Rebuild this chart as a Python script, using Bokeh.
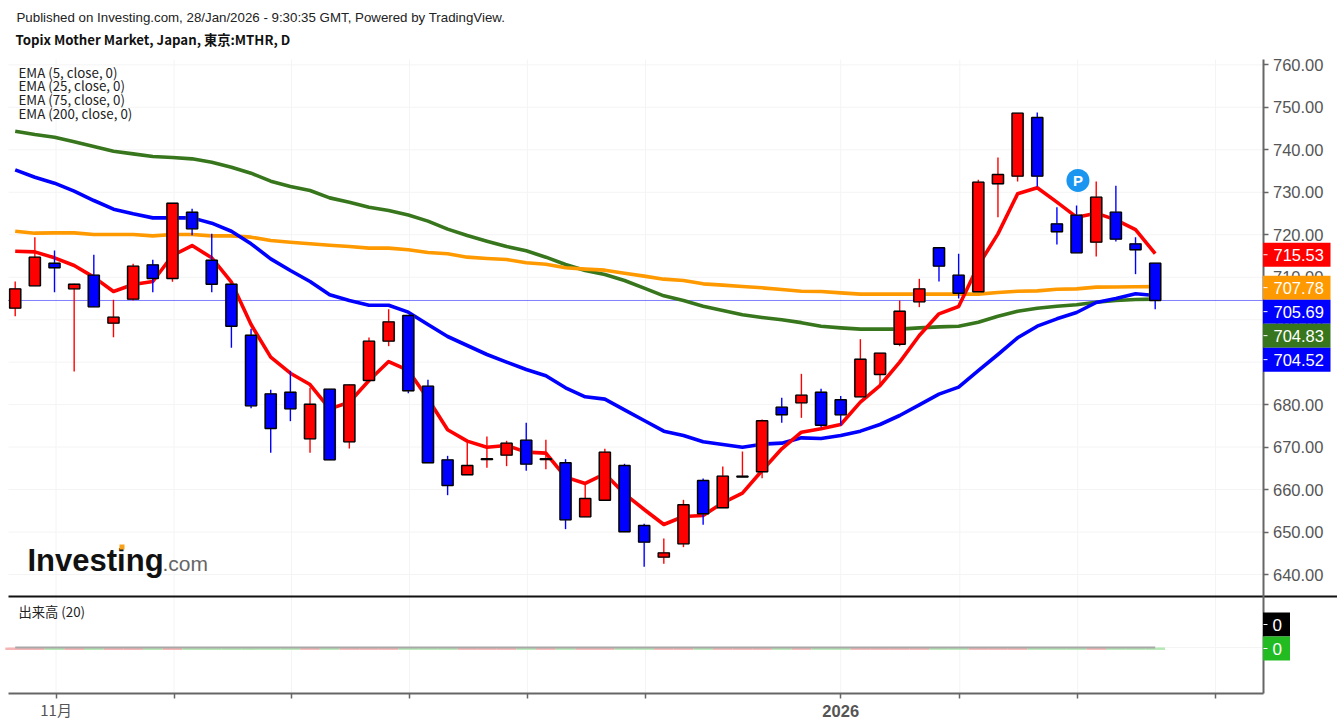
from bokeh.core.properties import value
from bokeh.embed import file_html
from bokeh.resources import INLINE
from bokeh.plotting import figure
from bokeh.models import (Label, BoxAnnotation, FixedTicker, LinearAxis,
                          Range1d, NumeralTickFormatter, ColumnDataSource)

# ---------- data ----------
opens = [702.71,707.97,713.30,707.26,710.48,699.18,704.83,712.91,709.69,725.31,
         714.01,708.36,696.35,682.54,682.93,671.94,683.64,671.23,685.68,694.94,
         700.99,684.35,667.00,663.47,667.04,668.10,671.63,667.04,666.30,653.58,
         657.50,665.67,651.54,644.08,647.22,662.14,655.70,662.96,664.18,679.40,
         680.42,682.93,681.13,681.83,687.09,694.23,704.20,716.92,710.48,706.56,
         731.99,733.79,747.61,722.57,724.61,718.25,725.32,717.86,713.31]
highs = [708.99,719.43,716.29,708.44,715.27,704.67,713.15,714.09,727.43,726.10,
         720.21,708.44,697.84,683.48,687.95,683.95,683.64,684.73,695.80,702.47,
         700.99,685.84,667.94,671.16,672.50,671.48,675.71,671.71,667.16,661.35,
         669.59,666.06,651.93,648.48,657.58,662.61,665.43,668.96,676.50,681.60,
         687.25,683.72,682.01,695.41,692.12,704.52,709.62,716.92,715.50,732.93,
         738.19,748.63,748.78,726.49,726.89,732.54,731.52,719.43,713.31]
lows = [700.82,707.97,706.48,687.80,703.02,695.88,704.51,706.48,708.91,719.90,
        706.48,693.37,679.16,668.64,676.10,668.64,667.00,669.66,685.68,693.76,
        682.70,666.30,658.68,663.47,665.12,665.51,664.41,664.80,650.68,653.58,
        657.50,650.05,641.81,642.51,646.44,651.70,655.70,662.96,662.68,675.71,
        676.89,674.69,675.08,681.83,684.74,693.76,702.95,708.99,704.99,706.56,
        724.14,732.54,731.36,717.70,715.74,714.88,718.41,710.72,702.48]
closes = [707.26,714.72,712.21,708.36,703.02,700.59,712.60,709.69,727.43,721.39,
          708.36,698.47,679.71,674.37,679.00,680.10,667.00,684.66,694.94,699.49,
          683.25,666.30,660.96,665.67,667.24,670.93,665.98,667.24,652.87,657.90,
          668.81,650.05,647.62,645.10,656.41,654.29,663.16,663.16,676.19,677.60,
          682.23,675.16,677.59,690.70,692.12,702.00,707.26,712.60,706.24,732.38,
          734.19,748.63,733.79,720.69,715.74,728.85,718.96,716.45,704.52]
ema5 = [716.13,715.97,714.56,712.75,710.01,706.63,708.28,708.99,715.11,717.46,
        714.56,708.83,698.86,691.17,687.40,684.73,679.00,680.57,685.68,690.15,
        688.04,681.37,674.07,671.40,669.98,670.38,668.81,668.57,662.92,661.43,
        663.70,659.00,655.31,651.77,653.66,653.90,656.88,659.15,664.49,669.59,
        673.51,674.30,675.32,680.58,684.50,690.00,696.28,701.38,703.10,712.76,
        720.21,729.63,731.05,727.67,724.14,725.08,723.51,721.23,715.53]
ema25 = [735.28,733.55,732.14,730.25,728.06,726.02,724.92,723.97,723.97,723.97,
         722.72,720.83,717.86,714.32,711.58,708.99,705.85,704.51,703.41,703.41,
         701.77,698.87,696.04,693.92,691.80,690.00,688.27,686.78,683.96,681.84,
         681.29,678.77,676.26,673.75,672.73,671.24,670.61,669.98,670.69,670.93,
         672.18,672.02,672.73,673.75,675.32,677.44,679.95,682.46,684.11,688.03,
         691.80,695.73,698.47,700.20,701.69,704.05,704.99,706.09,705.69]
ema75 = [720.84,720.37,720.44,720.44,720.05,720.05,720.05,719.74,720.05,720.05,
         719.74,719.74,719.43,718.64,718.25,717.86,717.54,717.23,716.84,716.84,
         716.45,715.82,715.51,714.72,714.41,714.17,713.39,713.07,712.21,711.90,
         711.66,710.95,710.25,709.54,709.23,708.44,708.13,707.82,707.50,707.10,
         706.68,706.64,706.32,706.01,706.01,706.01,706.01,706.01,706.01,706.01,
         706.40,706.71,706.79,707.18,707.26,707.66,707.70,707.74,707.78]
ema200 = [744.38,743.60,742.97,741.87,740.77,739.67,739.04,738.42,738.18,737.87,
          737.08,735.91,734.49,732.61,731.35,730.41,728.68,727.66,726.49,725.70,
          724.65,723.20,721.32,719.82,718.49,717.23,716.21,714.72,712.99,711.58,
          710.64,709.23,707.42,705.62,704.52,703.18,702.16,701.14,700.52,700.00,
          699.30,698.47,698.08,697.77,697.77,697.77,698.08,698.31,698.47,699.41,
          700.83,702.00,702.71,703.18,703.50,704.12,704.52,704.75,704.83]
volumes = [0] * 59
ma_volume = [0] * 59
last_close = 704.52
pivot_bar, pivot_price = 54.07, 732.8
tag_values = [715.53, 707.78, 705.69, 704.83, 704.52]
tag_colors = ["#ff0000", "#ff9900", "#0000ff", "#38761d", "#0000ff"]
price_ticks = [640,650,660,670,680,690,700,710,720,730,740,750,760]
time_ticks = [2.08, 8.08, 14.06, 20.06, 26.06, 32.07, 42.0, 48.06, 54.06, 61.07]
title_1 = "Published on Investing.com, 28/Jan/2026 - 9:30:35 GMT, Powered by TradingView."
title_2 = "Topix Mother Market, Japan, 東京:MTHR, D"
ema_names = ["EMA (5, close, 0)", "EMA (25, close, 0)", "EMA (75, close, 0)", "EMA (200, close, 0)"]
vol_name = "出来高 (20)"

# ---------- layout constants ----------
W, H = 1337, 727
DX = 19.655            # pixels per bar
PX_PER_UNIT = 4.247    # pixels per price unit
def bar_x(px): return (px - 14.7) / DX
def price_y(py): return 640 + (574 - py) / PX_PER_UNIT
X0, X1 = bar_x(0), bar_x(W)
Y0, Y1 = price_y(H), price_y(0)
PANE_LEFT, PANE_RIGHT = bar_x(8), bar_x(1262.5)
PANE_TOP, PANE_SPLIT, PANE_BOTTOM = price_y(59), price_y(596), price_y(693)
GRID = "#f4f4f4"
AXIS = "#666666"
TXT = "#555555"
SANS = "Liberation Sans"
CJK = "Noto Sans CJK JP"
RED, BLUE = "#ff0000", "#0000ff"

idx = list(range(len(closes)))
colors = [RED if c >= o else BLUE for o, c in zip(opens, closes)]
src = ColumnDataSource(dict(x=idx, o=opens, h=highs, l=lows, c=closes, col=colors,
                            bot=[min(a, b) for a, b in zip(opens, closes)],
                            top=[max(a, b) for a, b in zip(opens, closes)]))

p = figure(width=W, height=H, output_backend="svg", toolbar_location=None,
           x_range=Range1d(X0, X1), y_range=Range1d(Y0, Y1),
           x_axis_location=None, y_axis_location=None,
           min_border_left=0, min_border_right=0, min_border_top=0, min_border_bottom=0)
p.extra_y_ranges = {"vol": Range1d(647 - H, 647)}
p.outline_line_color = None
p.grid.visible = False

# grid lines, limited to the panes
p.segment([PANE_LEFT] * len(price_ticks), price_ticks, [PANE_RIGHT] * len(price_ticks), price_ticks,
          line_color=GRID, line_width=1)
p.segment(time_ticks, [PANE_TOP] * len(time_ticks), time_ticks, [PANE_BOTTOM] * len(time_ticks),
          line_color=GRID, line_width=1)
p.segment([PANE_LEFT], [0], [PANE_RIGHT], [0], line_color=GRID, line_width=1, y_range_name="vol")

# axes
ya = LinearAxis(fixed_location=PANE_RIGHT, bounds=(PANE_BOTTOM, PANE_TOP),
                ticker=FixedTicker(ticks=price_ticks),
                formatter=NumeralTickFormatter(format="0.00"))
ya.major_label_text_font = SANS
ya.major_label_text_font_size = "16.5px"
ya.major_label_text_color = TXT
ya.major_label_standoff = 5
ya.axis_line_color = AXIS
ya.axis_line_width = 2
ya.major_tick_line_color = AXIS
ya.major_tick_line_width = 1.5
ya.major_tick_out = 5
ya.major_tick_in = 0
ya.minor_tick_line_color = None
p.add_layout(ya, "right")

xa = LinearAxis(fixed_location=PANE_BOTTOM, bounds=(PANE_LEFT, PANE_RIGHT),
                ticker=FixedTicker(ticks=time_ticks))
xa.major_label_overrides = {t: ("11月" if t == time_ticks[0] else "") for t in time_ticks}
xa.major_label_text_font = CJK
xa.major_label_text_font_size = "15px"
xa.major_label_text_color = TXT
xa.major_label_standoff = 0
xa.axis_line_color = AXIS
xa.axis_line_width = 2
xa.major_tick_line_color = AXIS
xa.major_tick_line_width = 1.5
xa.major_tick_out = 5
xa.major_tick_in = 0
xa.minor_tick_line_color = None
p.add_layout(xa, "below")

p.segment([bar_x(8)], [PANE_SPLIT], [bar_x(W)], [PANE_SPLIT], line_color="#111111", line_width=2)
p.line([PANE_LEFT, PANE_RIGHT], [last_close, last_close], line_color=BLUE,
       line_dash=[1, 1], line_width=1)

for series, col in ((ema200, "#38761d"), (ema75, "#ff9900"), (ema25, BLUE), (ema5, RED)):
    p.line(idx, series, line_color=col, line_width=3.6, line_join="round")

p.segment("x", "h", "x", "l", source=src, line_color="col", line_width=1.4)
p.vbar("x", 0.61, "bot", "top", source=src, fill_color=None, line_color="#888888",
       line_width=1, line_alpha=0.7)
p.vbar("x", 0.56, "bot", "top", source=src, fill_color="col", line_color="black", line_width=1.4)

p.scatter([pivot_bar], [pivot_price], size=23, fill_color="#1a96f0", line_color=None)
p.text([pivot_bar], [pivot_price], text=["P"], text_color="white", text_font=value(SANS),
       text_font_style="bold", text_font_size="15px", text_align="center", text_baseline="middle")

# volume pane
vol_colors = ["#f5b5b5" if c == RED else "#b5e8b5" for c in colors]
p.vbar(idx, 1.0, volumes, [v - 2.4 for v in volumes], fill_color=vol_colors, line_color=None,
       y_range_name="vol")
p.line(idx, ma_volume, line_color="#a8a8a8", line_width=2, y_range_name="vol")


def lab(x, y, text, color="#222222", font=CJK, size="13.3px", style="normal"):
    p.add_layout(Label(x=x, y=y, x_units="canvas", y_units="canvas", text=text,
                       text_color=color, text_font=font, text_font_size=size,
                       text_font_style=style, text_baseline="middle", text_align="left"))


def box(l, r, t, b, color):
    p.add_layout(BoxAnnotation(left=l, right=r, top=t, bottom=b,
                               left_units="canvas", right_units="canvas",
                               top_units="canvas", bottom_units="canvas",
                               fill_color=color, fill_alpha=1, line_color=None))


lab(16, 17, title_1, color="#222222", font=SANS, size="13.3px")
lab(15, 39, title_2, color="#111111", size="13.25px", style="bold")
for name, yy in zip(ema_names, (72, 85, 99, 113)):
    lab(18, yy, name)

lab(27, 560, "Investing", color="#111111", font=SANS, size="31px", style="bold")
lab(162, 563, ".com", color="#666666", font=SANS, size="21px")
box(119, 124, 544, 549, "#f7a11a")

# price tags, stacked downward so they do not overlap
prev = None
for v, col in zip(tag_values, tag_colors):
    yy = 574 - (v - 640) * PX_PER_UNIT + 1
    if prev is not None and yy < prev + 24:
        yy = prev + 24
    prev = yy
    box(1262.5, 1330, yy - 12, yy + 12, col)
    box(1263, 1267, yy - 0.5, yy + 0.5, "white")
    lab(1273, yy, f"{v:.2f}", color="white", font=SANS, size="16.5px")

lab(18, 611, vol_name)
p.add_layout(Label(x=42, y=710, x_units="data", y_units="canvas", text="2026",
                   text_color=TXT, text_font=SANS, text_font_style="bold",
                   text_font_size="16.5px", text_align="center", text_baseline="middle"))
for col, yy in (("#000000", 624), ("#22bb22", 648)):
    box(1262.5, 1289.5, yy - 12, yy + 12, col)
    box(1263, 1267, yy - 0.5, yy + 0.5, "white")
    lab(1272, yy, "0", color="white", font=SANS, size="17px")

open("out.html", "w").write(file_html(p, INLINE))
